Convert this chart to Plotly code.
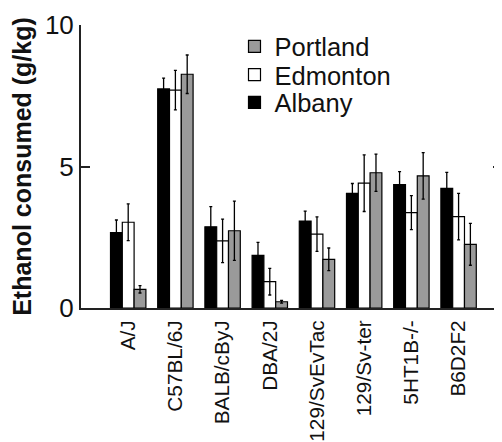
import plotly.graph_objects as go

strains = ["A/J", "C57BL/6J", "BALB/cByJ", "DBA/2J", "129/SvEvTac", "129/Sv-ter", "5HT1B-/-", "B6D2F2"]
albany = [2.66, 7.74, 2.87, 1.86, 3.07, 4.05, 4.36, 4.23]
albany_err = [0.45, 0.38, 0.71, 0.46, 0.35, 0.35, 0.46, 0.56]
edmonton = [3.03, 7.70, 2.37, 0.93, 2.61, 4.41, 3.37, 3.23]
edmonton_err = [0.65, 0.70, 0.77, 0.47, 0.61, 1.00, 0.60, 0.82]
portland = [0.66, 8.26, 2.73, 0.22, 1.72, 4.78, 4.67, 2.25]
portland_err = [0.13, 0.68, 1.05, 0.05, 0.40, 0.66, 0.82, 0.74]

FONT = "Liberation Sans, Arial, sans-serif"

fig = go.Figure()
series = [
    ("Albany", albany, albany_err, "#000000", "legend3"),
    ("Edmonton", edmonton, edmonton_err, "#ffffff", "legend2"),
    ("Portland", portland, portland_err, "#9a9a9a", "legend"),
]
for name, vals, errs, col, lg in series:
    fig.add_trace(go.Bar(
        name=name, x=strains, y=vals, legend=lg,
        marker=dict(color=col, line=dict(color="#000000", width=1.2)),
        error_y=dict(type="data", array=errs, visible=True, color="#000000", thickness=1.3, width=1.5),
    ))

leg_font = dict(size=25.5, family=FONT, color="#111111")
def leg(y):
    return dict(x=0.3646, y=y, xanchor="left", yanchor="middle",
                font=leg_font, bgcolor="rgba(0,0,0,0)")

# page body has an 8px default margin, so the figure is sized/offset to compensate
fig.update_layout(
    width=494, height=434,
    margin=dict(l=73, r=0, t=17, b=134),
    barmode="group", bargap=0.25, bargroupgap=0,
    plot_bgcolor="white", paper_bgcolor="white",
    font=dict(family=FONT, color="#000000"),
    showlegend=True,
    legend=leg(0.9233),
    legend2=leg(0.8233),
    legend3=leg(0.7254),
)
fig.update_xaxes(
    type="category", range=[-1.0, 7.92], automargin=False,
    showline=True, linecolor="#222222", linewidth=2,
    ticks="", tickangle=-90, ticklabelstandoff=2,
    tickfont=dict(size=20.8, family=FONT, color="#111111"),
    showgrid=False, zeroline=False,
)
fig.update_yaxes(
    range=[0, 10], tickvals=[0, 5, 10], ticktext=["0", "5", "10"], automargin=False,
    showline=True, linecolor="#222222", linewidth=2, mirror="ticks",
    ticks="inside", ticklen=9, tickwidth=1.5, tickcolor="#222222",
    tickfont=dict(size=26, family=FONT, color="#111111"),
    showgrid=False, zeroline=False,
    title=dict(text="<b>Ethanol consumed (g/kg)</b>", font=dict(size=25, family=FONT, color="#111111"), standoff=12),
)

fig.write_html("out.html")
